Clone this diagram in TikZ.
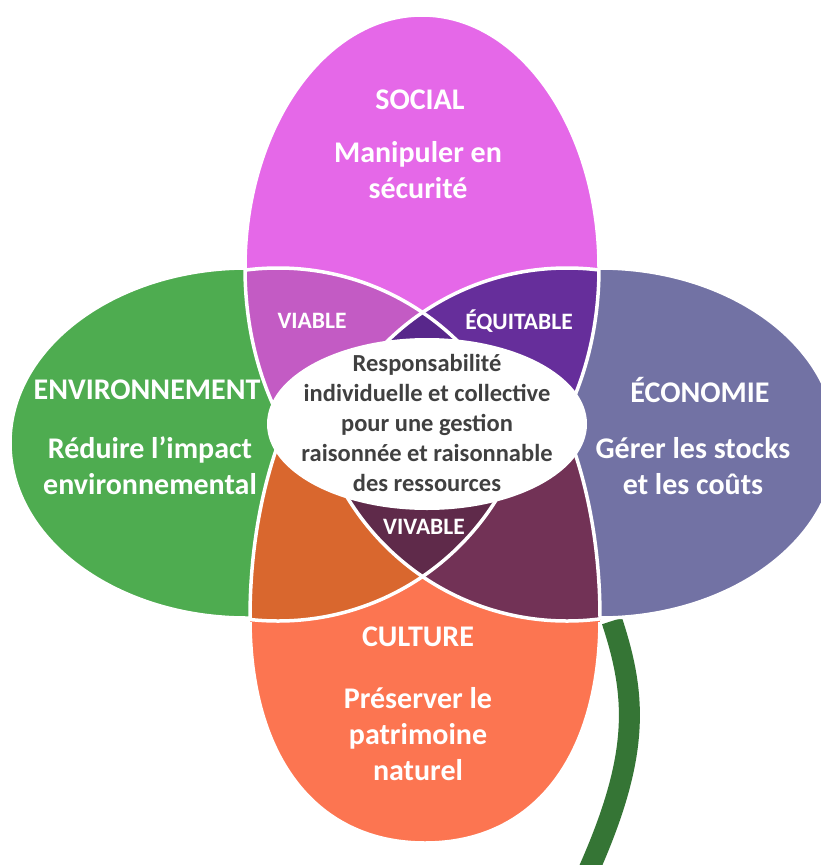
\documentclass[tikz,border=0pt]{standalone}
\usepackage{fontspec}
\setmainfont{Carlito}
\usetikzlibrary{shapes.geometric}
\definecolor{socialC}{HTML}{E568E8}
\definecolor{envC}{HTML}{4EAC50}
\definecolor{ecoC}{HTML}{7272A4}
\definecolor{culC}{HTML}{FC7551}
\definecolor{viaC}{HTML}{C35BC4}
\definecolor{equC}{HTML}{662E9B}
\definecolor{topC}{HTML}{58278B}
\definecolor{oraC}{HTML}{D9672E}
\definecolor{marC}{HTML}{723256}
\definecolor{vivC}{HTML}{5F2A4A}
\definecolor{stemC}{HTML}{357535}
\definecolor{txtC}{HTML}{404040}
\begin{document}
\begin{tikzpicture}[x=1pt,y=-1pt,line join=round,
  wline/.style={draw=white,line width=3.5pt},
  petal/.style={draw=white,line width=3.5pt},
  big/.style={text=white,font=\bfseries\fontsize{30}{36}\selectfont,align=center,inner sep=0pt},
  small/.style={text=white,font=\bfseries\fontsize{23.5}{28}\selectfont,inner sep=0pt},
  ctext/.style={text=txtC,font=\bfseries\fontsize{24.5}{30}\selectfont,align=center,inner sep=0pt}]
\useasboundingbox (0,0) rectangle (820,865);
\fill[white] (0,0) rectangle (820,865);

% stem
\coordinate (stemA) at (612,621);
\coordinate (stemB) at (582,885);
\draw[stemC,line width=21pt] (stemA) .. controls (638,700) and (640,760) .. (stemB);

% side and bottom petals
\filldraw[petal,fill=envC] (247,443) ellipse [x radius=237, y radius=175];
\filldraw[petal,fill=ecoC] (600,443) ellipse [x radius=237, y radius=175];
\filldraw[petal,fill=culC] (250,618) .. controls (250,760) and (318,843) .. (425,843)
  .. controls (532,843) and (600,760) .. (600,618) -- cycle;

% upper part: social ellipse and its lenses
\begin{scope}
  \clip (0,0) rectangle (820,443);
  \begin{scope}
    \clip (422,268) ellipse [x radius=177, y radius=253];
    \fill[socialC] (0,0) rectangle (820,443);
    \begin{scope}
      \clip (278,525) circle [radius=257];
      \fill[viaC] (0,0) rectangle (820,443);
    \end{scope}
    \begin{scope}
      \clip (567,525) circle [radius=257];
      \fill[equC] (0,0) rectangle (820,443);
      \clip (278,525) circle [radius=257];
      \fill[topC] (0,0) rectangle (820,443);
    \end{scope}
    \draw[wline] (278,525) circle [radius=257];
    \draw[wline] (567,525) circle [radius=257];
  \end{scope}
  \draw[wline] (422,268) ellipse [x radius=177, y radius=253];
\end{scope}

% lower part: culture ellipse and its lenses
\begin{scope}
  \clip (0,443) rectangle (820,622);
  \begin{scope}
    \clip (425,618) ellipse [x radius=175, y radius=320];
    \fill[culC] (0,443) rectangle (820,622);
    \begin{scope}
      \clip (278,364) circle [radius=257];
      \fill[oraC] (0,443) rectangle (820,622);
    \end{scope}
    \begin{scope}
      \clip (567,364) circle [radius=257];
      \fill[marC] (0,443) rectangle (820,622);
      \clip (278,364) circle [radius=257];
      \fill[vivC] (0,443) rectangle (820,622);
    \end{scope}
    \draw[wline] (278,364) circle [radius=257];
    \draw[wline] (567,364) circle [radius=257];
  \end{scope}
  \begin{scope}
    \clip (0,443) rectangle (820,618);
    \draw[wline] (425,618) ellipse [x radius=175, y radius=320];
  \end{scope}
\end{scope}

% centre
\fill[white] (427,424) ellipse [x radius=160, y radius=86];
\node[ctext] (centre) at (427,423) {Responsabilité\\individuelle et collective\\pour une gestion\\raisonnée et raisonnable\\des ressources};

% labels
\node[big] (socT) at (420,100) {SOCIAL};
\node[big] (socB) at (418,170) {Manipuler en\\sécurité};
\node[big] (envT) at (147,390) {ENVIRONNEMENT};
\node[big] (envB) at (150,466) {Réduire l’impact\\environnemental};
\node[big] (ecoT) at (700,390) {ÉCONOMIE};
\node[big] (ecoB) at (693,466) {Gérer les stocks\\et les coûts};
\node[big] (culT) at (418,637) {CULTURE};
\node[big] (culB) at (418,734) {Préserver le\\patrimoine\\naturel};
\node[small] (via) at (312,321) {VIABLE};
\node[small] (equ) at (519,321) {ÉQUITABLE};
\node[small] (viv) at (424,527) {VIVABLE};
\end{tikzpicture}
\end{document}
